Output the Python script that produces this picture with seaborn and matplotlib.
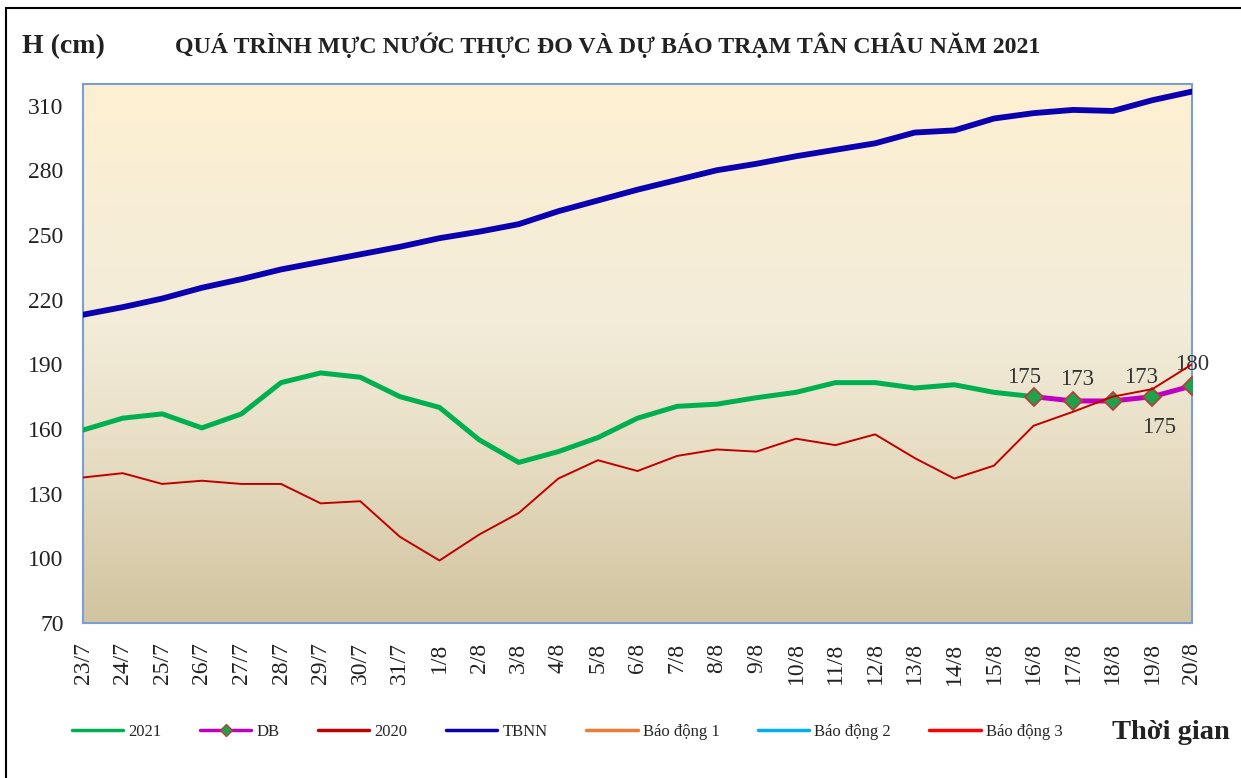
import numpy as np
import pandas as pd
import matplotlib.pyplot as plt
import seaborn as sns
from matplotlib.colors import LinearSegmentedColormap
from matplotlib.lines import Line2D

sns.set_theme(style='white')
plt.rcParams['font.family'] = ['Liberation Serif', 'DejaVu Serif']

dates = ['23/7', '24/7', '25/7', '26/7', '27/7', '28/7', '29/7', '30/7', '31/7',
         '1/8', '2/8', '3/8', '4/8', '5/8', '6/8', '7/8', '8/8', '9/8', '10/8',
         '11/8', '12/8', '13/8', '14/8', '15/8', '16/8', '17/8', '18/8', '19/8', '20/8']

h2021 = [159.5, 165, 167, 160.5, 167, 181.5, 186, 184, 175, 170, 155, 144.5, 149.5,
         156, 165, 170.5, 171.5, 174.5, 177, 181.5, 181.5, 179, 180.5, 177, 175,
         np.nan, np.nan, np.nan, np.nan]
db = [np.nan] * 24 + [175, 173, 173, 175, 180]
h2020 = [137.5, 139.5, 134.5, 136, 134.5, 134.5, 125.5, 126.5, 110, 99, 111, 121, 137,
         145.5, 140.5, 147.5, 150.5, 149.5, 155.5, 152.5, 157.5, 146.5, 137, 143,
         161.5, 168, 175, 178.5, 190]
tbnn = [213, 216.5, 220.5, 225.5, 229.5, 234, 237.5, 241, 244.5, 248.5, 251.5, 255,
        261, 266, 271, 275.5, 280, 283, 286.5, 289.5, 292.5, 297.5, 298.5, 304,
        306.5, 308, 307.5, 312.5, 316.5]
bd1, bd2, bd3 = 350, 400, 450

df = pd.DataFrame({'Ngay': dates, '2021': h2021, 'DB': db, '2020': h2020, 'TBNN': tbnn})
df['pos'] = range(len(df))

fig = plt.figure(figsize=(12.41, 7.78), dpi=100)
ax = fig.add_axes([0.0669, 0.1992, 0.8936, 0.6928])

# nen chuyen mau
cmap = LinearSegmentedColormap.from_list('nen', [(0, '#D2C4A0'), (0.35, '#E9E0C7'),
                                                 (0.55, '#F2ECD9'), (1, '#FEF0D2')])
grad = np.linspace(0, 1, 256).reshape(-1, 1)
ax.imshow(grad, extent=[0, 1, 0, 1], transform=ax.transAxes, aspect='auto',
          cmap=cmap, origin='lower', zorder=0)

mau = {'2021': '#00B050', 'DB': '#C000C0', '2020': '#C00000', 'TBNN': '#0A00B0',
       'Báo động 1': '#ED7D31', 'Báo động 2': '#00B0F0', 'Báo động 3': '#FF0000'}

sns.lineplot(data=df, x='pos', y='2021', ax=ax, color=mau['2021'], lw=3.6, zorder=3)
sns.lineplot(data=df, x='pos', y='DB', ax=ax, color=mau['DB'], lw=3.6,
             marker='D', markersize=9, markerfacecolor='#1EA34A',
             markeredgecolor='#B04040', markeredgewidth=1.3, zorder=4)
sns.lineplot(data=df, x='pos', y='2020', ax=ax, color=mau['2020'], lw=1.4, zorder=5)
sns.lineplot(data=df, x='pos', y='TBNN', ax=ax, color=mau['TBNN'], lw=4.2, zorder=5)
ax.axhline(bd1, color=mau['Báo động 1'], lw=2)
ax.axhline(bd2, color=mau['Báo động 2'], lw=2)
ax.axhline(bd3, color=mau['Báo động 3'], lw=2)

# nhan du bao
offs = [(-7, 6), (3, 8), (20, 9), (5, -30), (0, 8)]
for (i, v), (dx, dy) in zip(df['DB'].dropna().items(), offs):
    ax.annotate(f'{v:.0f}', (df.loc[i, 'pos'], v), xytext=(dx, dy), textcoords='offset points',
                ha='center', va='bottom', fontsize=16.5, color='#333333')

ax.set_xlim(0, len(dates) - 1)
ax.set_ylim(70, 320)
ax.set_yticks(range(70, 311, 30))
ax.set_xticks(df['pos'])
ax.set_xticklabels(dates, rotation=90)
ax.tick_params(axis='both', length=0, labelsize=17, colors='#222222', pad=14)
ax.set_xlabel('')
ax.set_ylabel('')
for s in ax.spines.values():
    s.set_color('#7BA0D0')
    s.set_linewidth(1.5)

handles = []
for k, c in mau.items():
    if k == 'DB':
        handles.append(Line2D([], [], color=c, lw=2.5, marker='D', markersize=6,
                              markerfacecolor='#1EA34A', markeredgecolor='#B04040'))
    else:
        handles.append(Line2D([], [], color=c, lw=2.5))
fig.legend(handles, list(mau.keys()), loc='center', bbox_to_anchor=(0.457, 0.059), ncol=7,
           frameon=False, fontsize=12, handlelength=3.1, columnspacing=2.3, handletextpad=0.3)

fig.text(0.018, 0.94, 'H (cm)', fontsize=20, fontweight='bold', va='center', color='#222222')
fig.text(0.141, 0.942, 'QUÁ TRÌNH MỰC NƯỚC THỰC ĐO VÀ DỰ BÁO TRẠM TÂN CHÂU NĂM 2021',
         fontsize=17.2, fontweight='bold', va='center', color='#222222')
fig.text(0.896, 0.059, 'Thời gian', fontsize=20.5, fontweight='bold', va='center', color='#222222')

# khung ngoai
fig.add_artist(Line2D([0.005, 0.005], [0, 0.99], transform=fig.transFigure, color='black', lw=1.5))
fig.add_artist(Line2D([0.005, 1], [0.99, 0.99], transform=fig.transFigure, color='black', lw=1.5))

fig.savefig('out.png', dpi=100)
